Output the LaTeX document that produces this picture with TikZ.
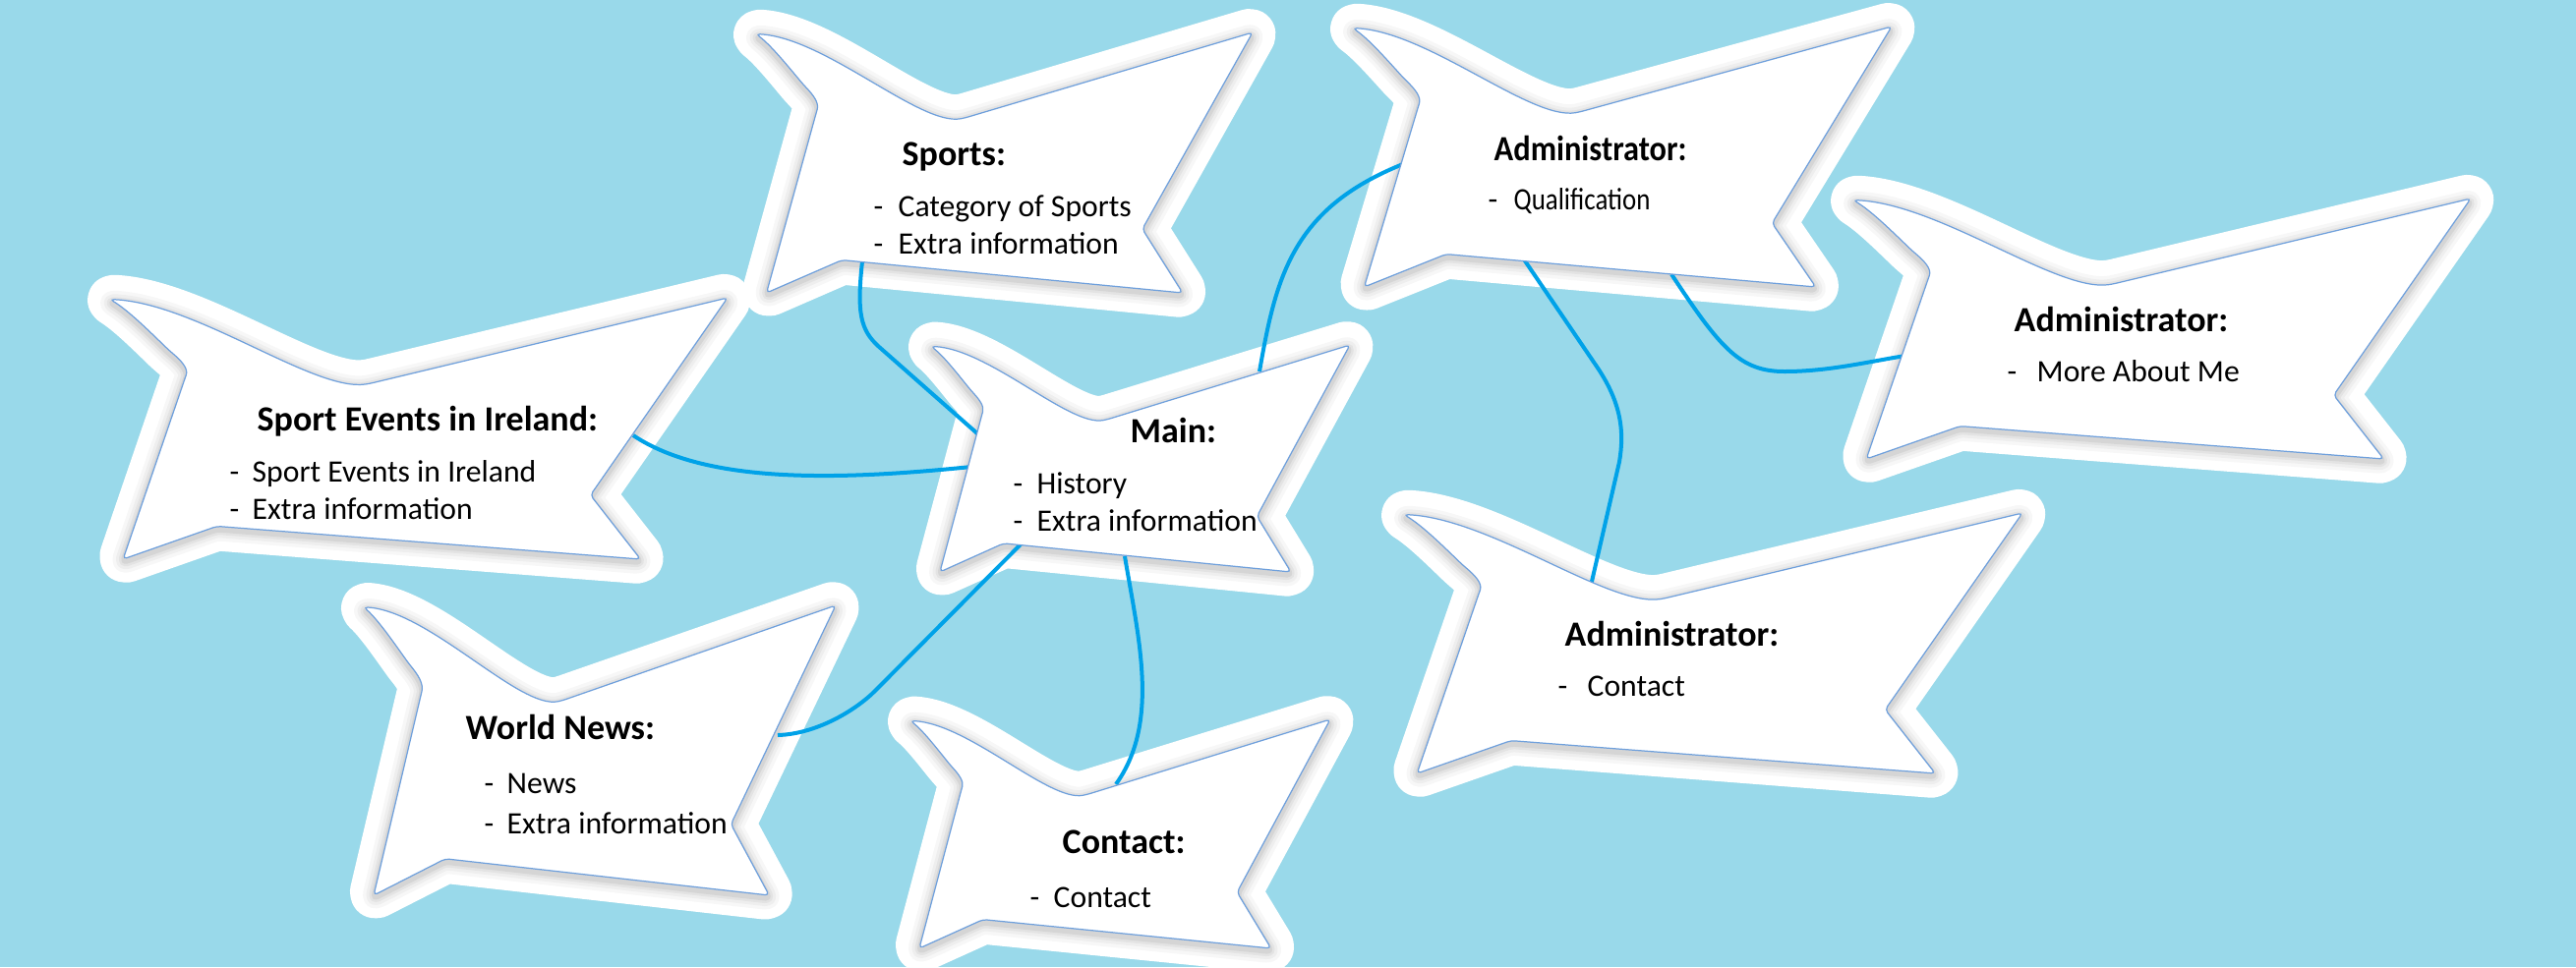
\documentclass[tikz,border=0pt]{standalone}
\usepackage{fontspec}
\setmainfont{Carlito}
\usepackage{graphicx}
\definecolor{bg}{HTML}{99D9EA}
\definecolor{conn}{HTML}{00A2E8}
\definecolor{edge}{HTML}{6FA0DC}
\newlength\pxu \setlength\pxu{0.01cm}
\newcommand\wavepath{(1,0) -- (0.778,0.755) -- (0.859,1) -- (0.173,0.874) -- (0.021,1) -- (0.121,0.31) .. controls (0.127,0.27) and (0.115,0.24) .. (0.095,0.2) .. controls (0.06,0.12) and (0.03,0.05) .. (0,0.006) .. controls (0.14,0.02) and (0.33,0.36) .. (0.42,0.3285) -- cycle}
\tikzset{
  shadowring/.style={draw=black,line join=round,rounded corners=0.04cm},
  head/.style={anchor=base west,inner sep=0pt,font=\bfseries\fontsize{10.24}{12}\selectfont},
  body/.style={anchor=base west,inner sep=0pt,font=\fontsize{9}{11}\selectfont},
  link/.style={draw=conn,line width=0.04cm}
}
\newcommand\waveglow[4]{%
  \begin{scope}[shift={(#1,#2)},xscale=#3,yscale=#4]
    \path[fill=white,draw=white,line width=0.5cm,line join=round,rounded corners=0.04cm] \wavepath;
  \end{scope}
  \begin{scope}[shift={(#1,#2+3)},xscale=#3,yscale=#4]
    \path[shadowring,draw opacity=0.03,line width=0.24cm] \wavepath;
    \path[shadowring,draw opacity=0.035,line width=0.17cm] \wavepath;
    \path[shadowring,draw opacity=0.045,line width=0.11cm] \wavepath;
    \path[shadowring,draw opacity=0.06,line width=0.06cm] \wavepath;
  \end{scope}}
\newcommand\wavebody[4]{\begin{scope}[shift={(#1,#2)},xscale=#3,yscale=#4]
  \path[fill=white,draw=edge,line width=0.35pt,rounded corners=0.04cm] \wavepath;
\end{scope}}
\newcommand\bline[5]{\node[body] (#1) at (#2,#4) {\makebox[#3\pxu][l]{-}#5};}
\begin{document}
\begin{tikzpicture}[x=0.01cm,y=-0.01cm]
\fill[bg] (0,0) rectangle (2620,984);
\useasboundingbox (0,0) rectangle (2620,984);
% glows
\waveglow{769}{33}{505}{265}
\waveglow{112}{303}{628}{266}
\waveglow{947}{351}{426}{231}
\waveglow{1376}{27}{548}{265}
\waveglow{1885}{202}{628}{265}
\waveglow{1428}{522}{629}{265}
\waveglow{370}{616}{480}{295}
\waveglow{926}{732}{427}{233}
% connector ends
\coordinate (sportsS) at (877,266);
\coordinate (mainL1) at (995,442);
\coordinate (seE) at (644,443);
\coordinate (mainL2) at (988,475);
\coordinate (wnE) at (791,748);
\coordinate (mainSW) at (1038,554);
\coordinate (mainS) at (1144,566);
\coordinate (contactN) at (1135,798);
\coordinate (mainN) at (1281,378);
\coordinate (atW) at (1432,165);
\coordinate (atS1) at (1550,264);
\coordinate (acN) at (1615,609);
\coordinate (atS2) at (1700,279);
\coordinate (arW) at (1938,362);
% connectors
\draw[link] (sportsS) .. controls (871,320) and (876,336) .. (893,352) -- (mainL1);
\draw[link] (seE) .. controls (720,494) and (860,488) .. (mainL2);
\draw[link] (wnE) .. controls (830,747) and (870,723) .. (890,703) -- (mainSW);
\draw[link] (mainS) .. controls (1158,650) and (1180,735) .. (contactN);
\draw[link] (mainN) .. controls (1298,280) and (1315,210) .. (atW);
\draw[link] (atS1) -- (1622,370) .. controls (1650,410) and (1652,440) .. (1647,470) -- (acN);
\draw[link] (atS2) .. controls (1750,355) and (1770,378) .. (1815,378) .. controls (1860,378) and (1900,368) .. (arW);
% bodies
\wavebody{769}{33}{505}{265}
\wavebody{112}{303}{628}{266}
\wavebody{947}{351}{426}{231}
\wavebody{1376}{27}{548}{265}
\wavebody{1885}{202}{628}{265}
\wavebody{1428}{522}{629}{265}
\wavebody{370}{616}{480}{295}
\wavebody{926}{732}{427}{233}
% texts
\node[head] (spH) at (917,168) {Sports:};
\bline{sp1}{888}{25}{220}{Category of Sports}
\bline{sp2}{888}{25}{258}{Extra information}
\node[head] (seH) at (261,438) {Sport Events in Ireland:};
\bline{se1}{233}{23}{490}{Sport Events in Ireland}
\bline{se2}{233}{23}{528}{Extra information}
\node[head] (mnH) at (1149,450) {Main:};
\bline{mn1}{1030}{24}{502}{History}
\bline{mn2}{1030}{24}{540}{Extra information}
\node[head] (atH) at (1519,163) {\scalebox{0.9}[1]{Administrator:}};
\bline{at1}{1513}{26}{213}{\scalebox{0.85}[1]{Qualification}}
\node[head] (arH) at (2048,337) {Administrator:};
\bline{ar1}{2041}{30}{388}{More About Me}
\node[head] (acH) at (1591,657) {Administrator:};
\bline{ac1}{1584}{30}{708}{Contact}
\node[head] (wnH) at (473,752) {World News:};
\bline{wn1}{492}{23}{807}{News}
\bline{wn2}{492}{23}{848}{Extra information}
\node[head] (ctH) at (1080,868) {Contact:};
\bline{ct1}{1047}{24}{923}{Contact}
\end{tikzpicture}
\end{document}
